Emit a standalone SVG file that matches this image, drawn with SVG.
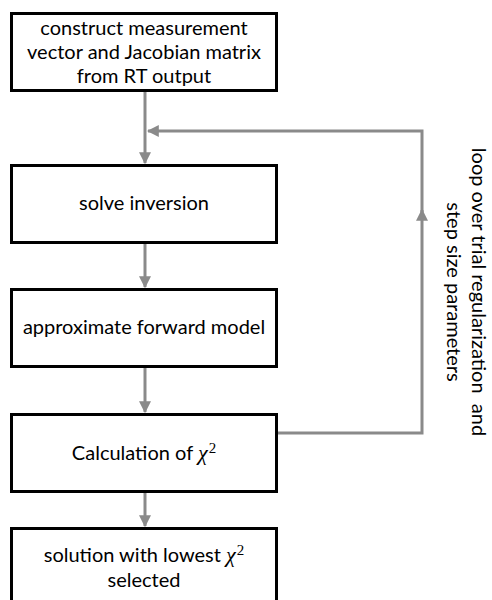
<svg xmlns="http://www.w3.org/2000/svg" width="492" height="600" viewBox="0 0 492 600">
  <style>
    .box { fill: #ffffff; stroke: #000000; stroke-width: 3; }
    .lbl { font-family: Lato, "Open Sans", sans-serif; font-size: 20px; fill: #000000; text-anchor: middle; }
    .side { font-family: Lato, "Open Sans", sans-serif; font-size: 20px; fill: #000000; text-anchor: middle; white-space: pre; }
    .chi { font-family: "Liberation Serif", serif; font-style: italic; font-size: 22px; }
    .sup { font-family: "Liberation Serif", serif; font-size: 15px; }
    .wire { fill: none; stroke: #8a8a8a; stroke-width: 3; }
  </style>
  <defs>
    <marker id="arrow" viewBox="0 0 10 10" refX="9" refY="5" markerWidth="4" markerHeight="4" orient="auto" markerUnits="strokeWidth">
      <path d="M0,0 L10,5 L0,10 z" fill="#8a8a8a"/>
    </marker>
  </defs>
  <rect width="492" height="600" fill="#ffffff"/>

  <g id="connectors">
    <line class="wire" x1="145" y1="91" x2="145" y2="163" marker-end="url(#arrow)"/>
    <line class="wire" x1="145" y1="243" x2="145" y2="287" marker-end="url(#arrow)"/>
    <line class="wire" x1="145" y1="367" x2="145" y2="412" marker-end="url(#arrow)"/>
    <line class="wire" x1="145" y1="493" x2="145" y2="526" marker-end="url(#arrow)"/>
    <!-- feedback loop from chi-square back to the inversion -->
    <polyline class="wire" points="277,433 422,433 422,210" marker-end="url(#arrow)"/>
    <polyline class="wire" points="422,212 422,131 148,131" marker-end="url(#arrow)"/>
  </g>

  <g id="construct">
    <rect class="box" x="11.5" y="13.5" width="265" height="77"/>
    <text class="lbl" x="144" y="35">construct measurement</text>
    <text class="lbl" x="144" y="59">vector and Jacobian matrix</text>
    <text class="lbl" x="144" y="83">from RT output</text>
  </g>

  <g id="solve">
    <rect class="box" x="11.5" y="165.5" width="265" height="77"/>
    <text class="lbl" x="144" y="210">solve inversion</text>
  </g>

  <g id="forward">
    <rect class="box" x="11.5" y="289.5" width="265" height="77"/>
    <text class="lbl" x="144" y="334">approximate forward model</text>
  </g>

  <g id="chisq">
    <rect class="box" x="11.5" y="414.5" width="265" height="77"/>
    <text class="lbl" x="144" y="460">Calculation of <tspan class="chi">χ</tspan><tspan class="sup" dx="1" dy="-7">2</tspan></text>
  </g>

  <g id="select">
    <rect class="box" x="11.5" y="528.5" width="265" height="80"/>
    <text class="lbl" x="144" y="562">solution with lowest <tspan class="chi">χ</tspan><tspan class="sup" dx="1" dy="-7">2</tspan></text>
    <text class="lbl" x="144" y="587">selected</text>
  </g>

  <g id="loop-label">
    <text class="side" transform="translate(472,292) rotate(90)">loop over trial regularization  and</text>
    <text class="side" transform="translate(447,292) rotate(90)">step size parameters</text>
  </g>
</svg>
